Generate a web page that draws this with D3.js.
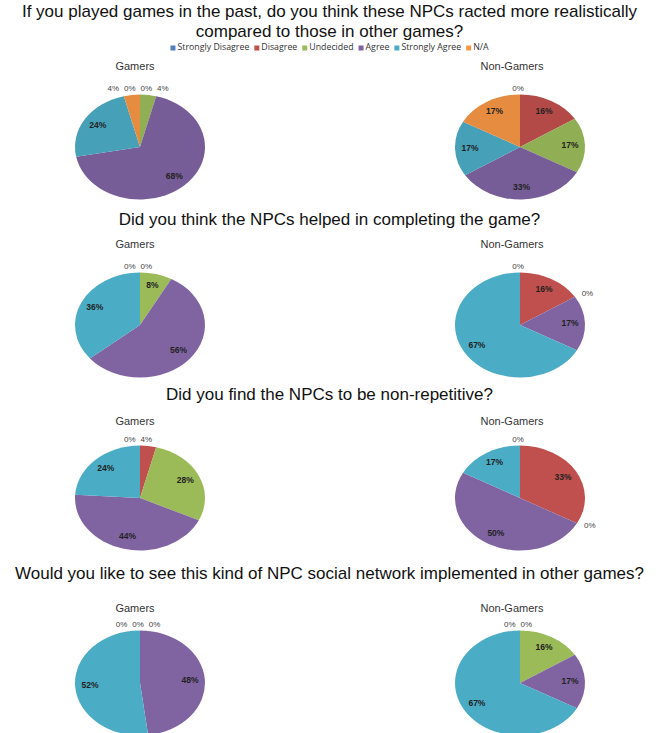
<!DOCTYPE html>
<html><head><meta charset="utf-8">
<script src="https://cdn.jsdelivr.net/npm/d3@7"></script>
<style>html,body{margin:0;padding:0;background:#fff;}svg{display:block;}</style>
</head><body>
<svg id="chart" width="659" height="733"></svg>
<script>
// ---- data ----
const categories = ["Strongly Disagree","Disagree","Undecided","Agree","Strongly Agree","N/A"];
const categoryColors = ["#4F81BD","#C0504D","#9BBB59","#8064A2","#4BACC6","#F79646"];
const groups = ["Gamers","Non-Gamers"];
const questions = [
  ["If you played games in the past, do you think these NPCs racted more realistically","compared to those in other games?"],
  ["Did you think the NPCs helped in completing the game?"],
  ["Did you find the NPCs to be non-repetitive?"],
  ["Would you like to see this kind of NPC social network implemented in other games?"]
];
const q1Gamers    = [0, 0, 4, 68, 24, 4];
const q1NonGamers = [0, 16, 17, 33, 17, 17];
const q2Gamers    = [0, 0, 8, 56, 36];
const q2NonGamers = [0, 16, 0, 17, 67];
const q3Gamers    = [0, 4, 28, 44, 24];
const q3NonGamers = [0, 33, 0, 50, 17];
const q4Gamers    = [0, 0, 0, 48, 52];
const q4NonGamers = [0, 0, 16, 17, 67];
const series = [[q1Gamers,q1NonGamers],[q2Gamers,q2NonGamers],[q3Gamers,q3NonGamers],[q4Gamers,q4NonGamers]];

// ---- layout ----
const svg = d3.select("#chart");
const W = 659;
const font = "'Liberation Sans', Arial, sans-serif";
const legFont = "'Open Sans', 'Liberation Sans', sans-serif";
const color = d3.scaleOrdinal().domain(d3.range(categories.length)).range(categoryColors);

const titleY = [[13, 33], [221], [396], [575]];
const subY = [67, 245, 422, 609];
const pieCY = [147, 325, 498, 683];
const colCX = [140, 520];
const subX = [135, 512];
const RX = 65, RY = 52.5;

questions.forEach((lines, qi) => {
  lines.forEach((ln, li) => {
    svg.append("text").attr("x", W/2).attr("y", titleY[qi][li])
      .attr("text-anchor","middle").attr("dominant-baseline","middle")
      .style("font-family", font).style("font-size","17px").style("fill","#111")
      .text(ln);
  });
});

// legend
const leg = svg.append("g");
let lx = 0;
categories.forEach((c, i) => {
  const g = leg.append("g").attr("transform", `translate(${lx},0)`);
  g.append("rect").attr("x",0).attr("y",-2.5).attr("width",5).attr("height",5).attr("fill", color(i));
  const t = g.append("text").attr("x",7).attr("y",0).attr("dominant-baseline","middle")
    .style("font-family", legFont).style("font-size","8.8px").style("fill","#333").text(c);
  lx += 7 + t.node().getComputedTextLength() + 5;
});
const legW = lx - 5;
leg.attr("transform", `translate(${(W - legW)/2},48)`);

const pie = d3.pie().sort(null).value(d => d);
const arc = d3.arc().innerRadius(0).outerRadius(RX);

series.forEach((pair, qi) => {
  pair.forEach((vals, gi) => {
    const cx = colCX[gi], cy = pieCY[qi];
    svg.append("text").attr("x", subX[gi]).attr("y", subY[qi])
      .attr("text-anchor","middle").attr("dominant-baseline","middle")
      .style("font-family", font).style("font-size","11px").style("fill","#333")
      .text(groups[gi]);
    const arcs = pie(vals);
    const g = svg.append("g").attr("transform", `translate(${cx},${cy}) scale(1,${RY/RX})`);
    g.selectAll("path").data(arcs.filter(d => d.value > 0)).join("path")
      .attr("d", arc)
      .attr("fill", d => qi === 0 ? d3.color(color(d.index)).darker(0.2) : color(d.index));

    const topGroup = [];
    arcs.forEach(d => {
      const a = (d.startAngle + d.endAngle)/2;
      const lbl = d.value + "%";
      if (d.value >= 5) {
        const f = 0.77;
        svg.append("text").attr("x", cx + RX*f*Math.sin(a)).attr("y", cy - RY*f*Math.cos(a))
          .attr("text-anchor","middle").attr("dominant-baseline","middle")
          .style("font-family", font).style("font-size","8.5px").style("font-weight","bold").style("fill","#222")
          .text(lbl);
      } else if (a < 0.45 || a > 2*Math.PI - 0.45) {
        topGroup.push({a: a > Math.PI ? a - 2*Math.PI : a, i: d.index, lbl});
      } else {
        const f = 1.12;
        const x = cx + RX*f*Math.sin(a), y = cy - RY*f*Math.cos(a);
        svg.append("text").attr("x", x + 6*Math.sign(Math.sin(a))).attr("y", y)
          .attr("text-anchor","middle").attr("dominant-baseline","middle")
          .style("font-family", font).style("font-size","8px").style("fill","#444")
          .text(lbl);
      }
    });
    topGroup.sort((p, q) => p.a - q.a || p.i - q.i);
    const sp = 16.5;
    topGroup.forEach((t, k) => {
      const x = cx - 2 + (k - (topGroup.length - 1)/2) * sp;
      svg.append("text").attr("x", x).attr("y", cy - RY - 6)
        .attr("text-anchor","middle").attr("dominant-baseline","middle")
        .style("font-family", font).style("font-size","8px").style("fill","#444")
        .text(t.lbl);
    });
  });
});
</script>
</body></html>
